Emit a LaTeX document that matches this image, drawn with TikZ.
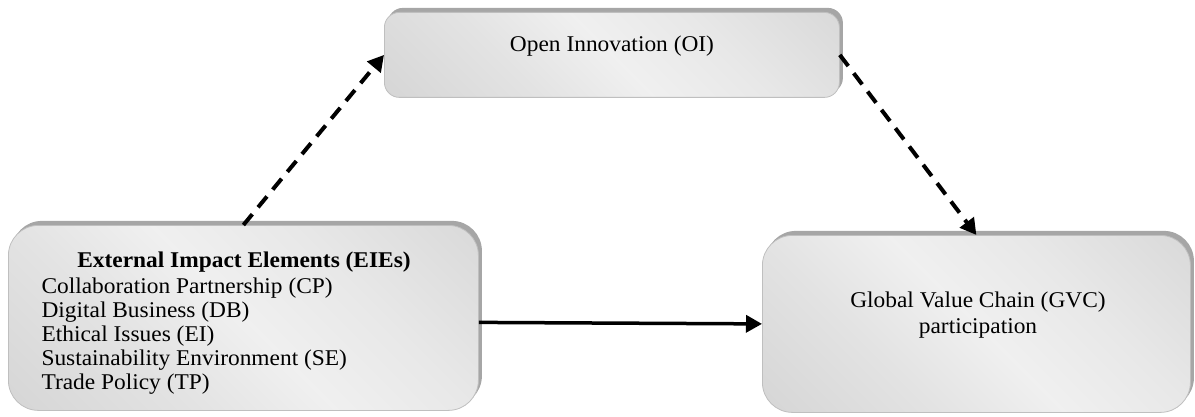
\documentclass[tikz,border=0pt]{standalone}
\usepackage{fontspec}
\setmainfont{Liberation Serif}[FakeStretch=1.04]
\usetikzlibrary{shadows,arrows.meta}

% soft diagonal grey gradient used for all boxes
\pgfdeclarehorizontalshading{boxshade}{100bp}{%
  color(0bp)=(black!20); color(35bp)=(black!11); color(50bp)=(black!6);
  color(65bp)=(black!9); color(100bp)=(black!19)}

\tikzset{
  panel/.style={rounded corners=#1, draw=black!25, line width=0.8,
    shading=boxshade, shading angle=45,
    drop shadow={shadow xshift=3.5, shadow yshift=-4.5, fill=black!35, opacity=1}},
  boxtext/.style={font=\fontsize{22.5}{24}\selectfont},
  dasharrow/.style={line width=4, dash pattern=on 14 off 9,
    -{Triangle[length=16,width=17]}},
  solidarrow/.style={line width=3.5, -{Triangle[length=16,width=17]}}
}

\begin{document}
\begin{tikzpicture}[x=1pt,y=-1pt]
\useasboundingbox (0,0) rectangle (1195,417);

% mediator
\node[panel=15, minimum width=455, minimum height=85, inner sep=0,
      anchor=north west] (oi) at (384,12) {};
\node[boxtext, anchor=base] (oitext) at (612,52) {Open Innovation (OI)};

% independent variables
\node[panel=30, minimum width=470, minimum height=185, inner sep=0,
      anchor=north west] (eie) at (8,225) {};
\node[anchor=base, font=\fontsize{22.5}{24}\selectfont\bfseries] (eiehead) at (244,267)
  {External Impact Elements (EIEs)};
\node[boxtext, anchor=base west] (eiecp) at (38,293) {Collaboration Partnership (CP)};
\node[boxtext, anchor=base west] (eiedb) at (38,317) {Digital Business (DB)};
\node[boxtext, anchor=base west] (eieei) at (38,341) {Ethical Issues (EI)};
\node[boxtext, anchor=base west] (eiese) at (38,365) {Sustainability Environment (SE)};
\node[boxtext, anchor=base west] (eietp) at (38,389) {Trade Policy (TP)};

% dependent variable
\node[panel=30, minimum width=428, minimum height=177, inner sep=0,
      anchor=north west] (gvc) at (762,235) {};
\node[boxtext, anchor=base] (gvctext1) at (978,307) {Global Value Chain (GVC)};
\node[boxtext, anchor=base] (gvctext2) at (978,333) {participation};

% relationships
\draw[dasharrow] (eie.north) -- (oi.west);
\draw[dasharrow] (oi.east) -- (gvc.north);
\draw[solidarrow] ([yshift=-4.5]eie.east) -- (gvc.west);
\end{tikzpicture}
\end{document}
